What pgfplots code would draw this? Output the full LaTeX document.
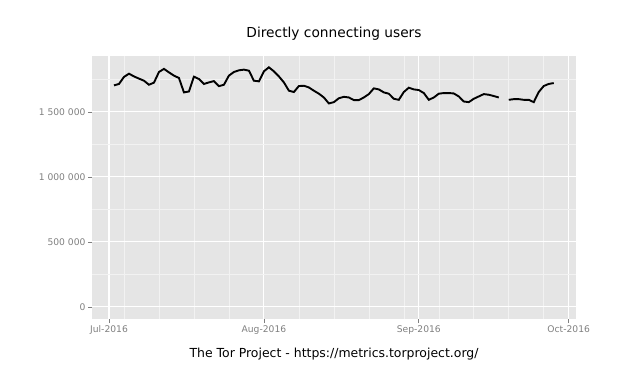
\documentclass[border=0pt]{standalone}
\usepackage{pgfplots}
\pgfplotsset{compat=1.18}
\usepackage{pgfplotstable}
\usepackage{fontspec}
\setmainfont{DejaVu Sans}
\definecolor{bggray}{HTML}{E5E5E5}
\definecolor{minorgray}{HTML}{F2F2F2}
\definecolor{tickgray}{HTML}{7F7F7F}
\pgfplotstableread{
day users
1 1704000
2 1715000
3 1769000
4 1794000
5 1773000
6 1756000
7 1740000
8 1709000
9 1725000
10 1807000
11 1831000
12 1804000
13 1779000
14 1761000
15 1650000
16 1657000
17 1771000
18 1753000
19 1715000
20 1727000
21 1737000
22 1698000
23 1709000
24 1779000
25 1807000
26 1820000
27 1825000
28 1817000
29 1740000
30 1735000
31 1812000
32 1843000
33 1812000
34 1773000
35 1727000
36 1663000
37 1653000
38 1699000
39 1701000
40 1688000
41 1663000
42 1640000
43 1611000
44 1565000
45 1575000
46 1605000
47 1616000
48 1611000
49 1591000
50 1591000
51 1611000
52 1637000
53 1681000
54 1673000
55 1650000
56 1640000
57 1601000
58 1593000
59 1653000
60 1686000
61 1673000
62 1668000
63 1645000
64 1593000
65 1611000
66 1640000
67 1645000
68 1645000
69 1642000
70 1619000
71 1580000
72 1575000
73 1601000
74 1619000
75 1637000
76 1632000
77 1622000
78 1611000
79 nan
80 1593000
81 1598000
82 1598000
83 1593000
84 1593000
85 1575000
86 1653000
87 1699000
88 1715000
89 1722000
}\usersdata
\begin{document}
\begin{tikzpicture}[x=1bp,y=1bp]
\useasboundingbox (0,0) rectangle (637,367);
\begin{axis}[
  at={(92bp,48bp)}, anchor=south west,
  scale only axis, width=483.7bp, height=263bp,
  xmin=-3.4, xmax=93.4,
  ymin=-93000, ymax=1930000,
  scaled y ticks=false,
  axis lines*=left,
  axis line style={draw=none},
  axis background/.style={fill=bggray},
  xtick={0,31,62,92},
  xticklabels={Jul-2016,Aug-2016,Sep-2016,Oct-2016},
  ytick={0,500000,1000000,1500000},
  yticklabels={0,500 000,1 000 000,1 500 000},
  minor xtick={3,10,17,24,38,45,52,59,66,73,80,87},
  minor ytick={250000,750000,1250000,1750000},
  grid=both,
  major grid style={white, line width=1.1bp},
  minor grid style={minorgray, line width=0.6bp},
  tick align=outside,
  major tick length=4bp,
  minor tick length=0pt,
  tick style={tickgray, line width=0.8bp},
  xtick pos=left, ytick pos=left,
  tick label style={font=\fontsize{9.2}{10}\selectfont, text=tickgray},
  xticklabel style={yshift=1bp},
  yticklabel style={xshift=1bp},
  unbounded coords=jump,
  clip=false,
]
\addplot[black, line width=1.9bp] table[x=day, y=users] {\usersdata};
\end{axis}
\node[anchor=base, font=\fontsize{13.8}{16}\selectfont] at (334,329.3) {Directly connecting users};
\node[anchor=base, font=\fontsize{12.5}{14}\selectfont] at (334,9.5) {The Tor Project - https://metrics.torproject.org/};
\end{tikzpicture}
\end{document}
